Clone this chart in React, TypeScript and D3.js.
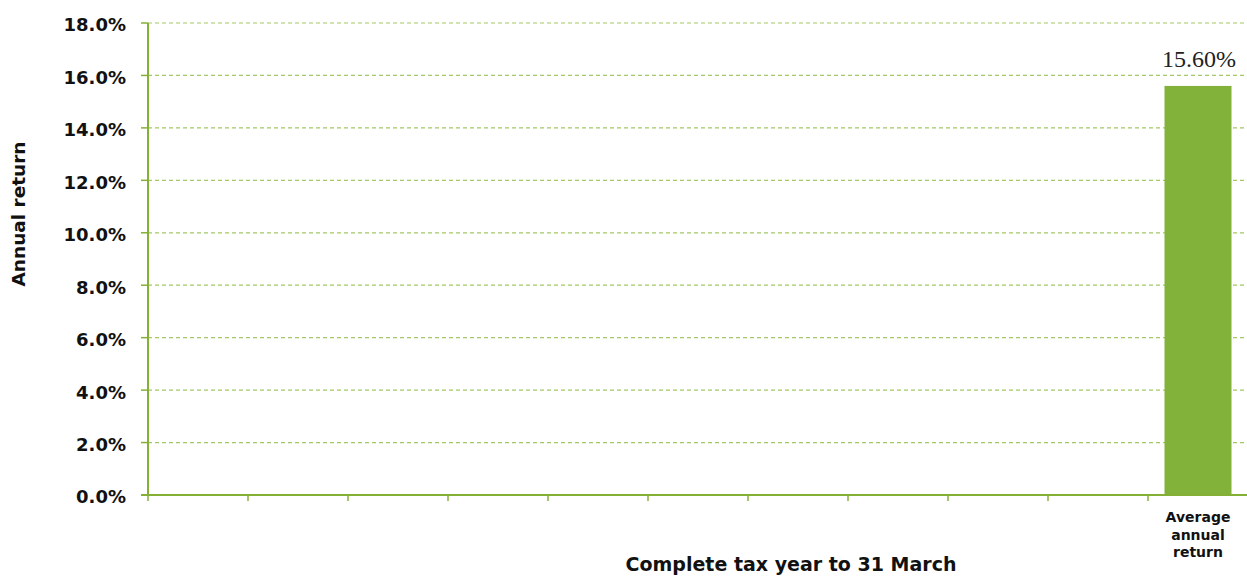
import React from "react";
import * as d3 from "d3";

const categories: string[] = ["", "", "", "", "", "", "", "", "", "", "Average annual return"];
const values: (number | null)[] = [null, null, null, null, null, null, null, null, null, null, 15.6];
const yTicks: number[] = [0, 2, 4, 6, 8, 10, 12, 14, 16, 18];
const dataLabels: string[] = ["", "", "", "", "", "", "", "", "", "", "15.60%"];

const W = 1247, H = 577;
const M = { left: 148, right: 1248, top: 23, bottom: 495 };
const AXIS = "#84b135";
const BAR = "#83b23a";
const GRID = "#a3c865";
const FONT = "'DejaVu Sans', sans-serif";

export default function App() {
  const x = d3.scaleBand<number>().domain(categories.map((_, i) => i)).range([M.left, M.right]).paddingInner(0.33).paddingOuter(0.165);
  const xb = d3.scaleBand<number>().domain(categories.map((_, i) => i)).range([M.left, M.right]);
  const y = d3.scaleLinear().domain([0, 18]).range([M.bottom, M.top]);
  return (
    <svg width={W} height={H} style={{ position: "absolute", left: 0, top: 0 }}>
      <rect width={W} height={H} fill="#fff" />
      {yTicks.filter((t) => t > 0).map((t) => (
        <line key={"g" + t} x1={M.left} x2={W} y1={y(t)} y2={y(t)} stroke={GRID} strokeWidth={1.2} strokeDasharray="4,3" />
      ))}
      {values.map((v, i) =>
        v == null ? null : (
          <rect key={"b" + i} x={x(i)!} width={x.bandwidth()} y={y(v)} height={y(0) - y(v)} fill={BAR} />
        )
      )}
      {values.map((v, i) =>
        v == null ? null : (
          <text key={"l" + i} x={xb(i)! + xb.bandwidth() / 2 + 1} y={y(v) - 19} textAnchor="middle" fontFamily="'Liberation Serif', serif" fontSize={24} fill="#222">
            {dataLabels[i]}
          </text>
        )
      )}
      <line x1={M.left} x2={M.left} y1={M.top} y2={M.bottom} stroke={AXIS} strokeWidth={2} />
      <line x1={M.left - 7} x2={W} y1={M.bottom} y2={M.bottom} stroke={AXIS} strokeWidth={2} />
      {yTicks.map((t) => (
        <g key={"t" + t}>
          <line x1={M.left - 7} x2={M.left} y1={y(t)} y2={y(t)} stroke={AXIS} strokeWidth={1.5} />
          <text x={126} y={y(t)} dy="0.47em" textAnchor="end" fontFamily={FONT} fontWeight="bold" fontSize={18} fill="#111">
            {t.toFixed(1) + "%"}
          </text>
        </g>
      ))}
      {categories.map((c, i) => (
        <line key={"xt" + i} x1={xb(i)!} x2={xb(i)!} y1={M.bottom} y2={M.bottom + 6} stroke={AXIS} strokeWidth={1.5} />
      ))}
      {categories.map((c, i) => (
        <text key={"xl" + i} x={xb(i)! + xb.bandwidth() / 2} y={522} textAnchor="middle" fontFamily={FONT} fontWeight="bold" fontSize={14} fill="#111">
          {c.split(" ").map((w, j) => (
            <tspan key={j} x={xb(i)! + xb.bandwidth() / 2} dy={j === 0 ? 0 : 17.5}>{w}</tspan>
          ))}
        </text>
      ))}
      <text x={791} y={571} textAnchor="middle" fontFamily={FONT} fontWeight="bold" fontSize={19} fill="#111">
        Complete tax year to 31 March
      </text>
      <text transform={`translate(25,214) rotate(-90)`} textAnchor="middle" fontFamily={FONT} fontWeight="bold" fontSize={18.5} fill="#111">
        Annual return
      </text>
    </svg>
  );
}
